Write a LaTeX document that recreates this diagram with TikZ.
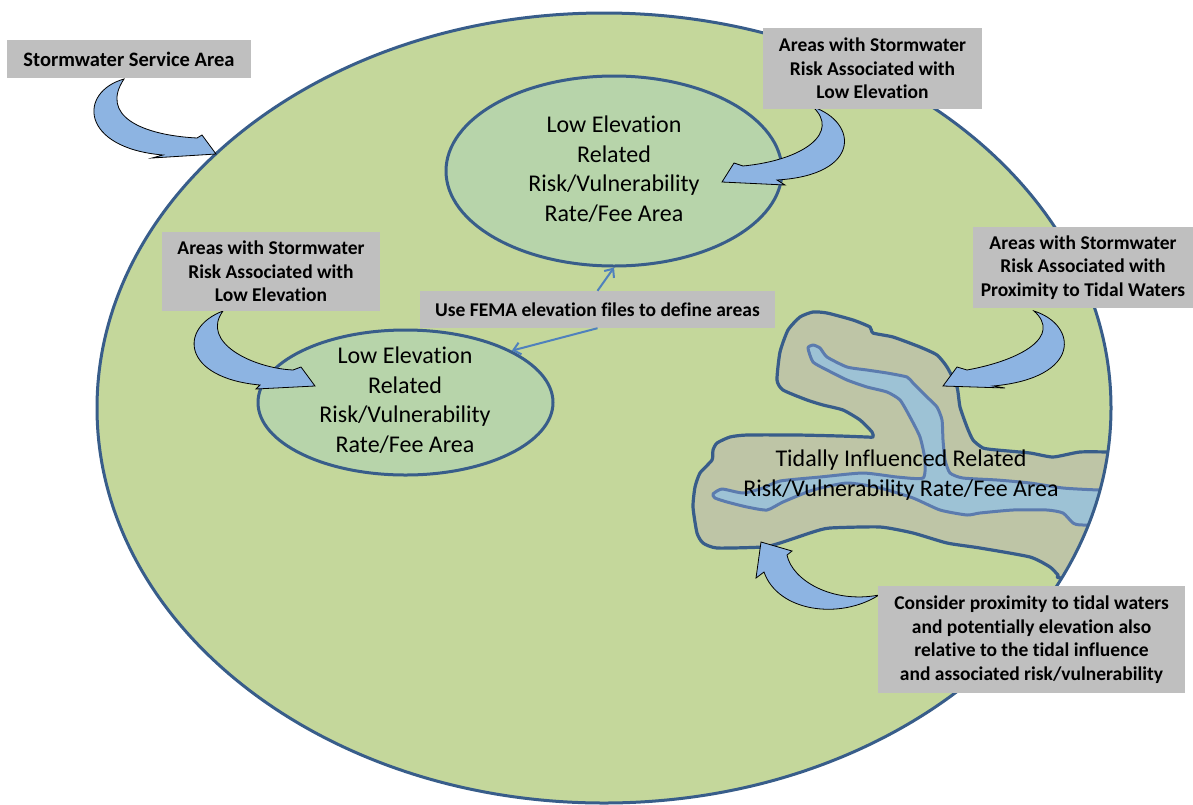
\documentclass[tikz,border=0pt]{standalone}
\usepackage{fontspec}
\setmainfont{Carlito}[Ligatures=NoCommon]
\usetikzlibrary{shapes.geometric,arrows.meta}
\definecolor{areafill}{HTML}{C4D79B}
\definecolor{darkblue}{HTML}{385D8A}
\definecolor{innerfill}{HTML}{B7D4AA}
\definecolor{boxgray}{HTML}{BFBFBF}
\definecolor{arrowblue}{HTML}{8DB4E2}
\definecolor{bandfill}{HTML}{BEC5A6}
\definecolor{chanfill}{HTML}{9DC2D5}
\definecolor{chanline}{HTML}{5B7BAE}
\definecolor{femablue}{HTML}{4F81BD}
\begin{document}
\begin{tikzpicture}[x=1pt,y=-1pt,
  lbl/.style={fill=boxgray, inner sep=0pt, align=center, font=\fontsize{19.5}{23.5}\selectfont\bfseries},
  zoneshape/.style={ellipse, draw=darkblue, line width=3pt, fill=innerfill, inner sep=0pt},
  zonetext/.style={inner sep=0pt, align=center, font=\fontsize{24}{29.5}\selectfont},
  blockarrow/.style={fill=arrowblue, draw=black, line width=0.8pt, line join=miter},
  femaarrow/.style={draw=femablue, line width=2pt, -{Straight Barb[length=7pt,width=12pt]}}]
\useasboundingbox (0,0) rectangle (1193,804);
% service area
\node[ellipse, fill=areafill, minimum width=1014pt, minimum height=790pt, inner sep=0pt] (area) at (604,408) {};
% tidal river
\begin{scope}
\clip (604,408) ellipse [x radius=507pt, y radius=395pt];
\draw[fill=bandfill, draw=darkblue, line width=3.2pt, line join=round]
  plot[smooth cycle, tension=0.35] coordinates {
  (777,380) (780,352) (788,330) (800,317) (813,312) (827,313) (853,320) (870,327) (873,333)
  (893,337) (920,347) (937,355) (947,367) (957,387) (960,407) (967,427) (973,440) (983,448)
  (997,450) (1030,453) (1053,457) (1080,452) (1112,452) (1150,452) (1150,580) (1062,578)
  (1058,575) (1050,567) (1030,557) (980,548) (947,543) (913,533) (880,527) (830,528) (813,532)
  (780,543) (763,547) (717,548) (703,543) (697,533) (693,507) (695,487) (700,473) (712,460)
  (713,450) (717,443) (730,437) (747,435) (797,435) (840,436) (867,437) (873,437) (872,432)
  (860,420) (843,410) (823,405) (807,400) (783,390)};
\draw[fill=chanfill, draw=chanline, line width=3pt, line join=round]
  plot[smooth cycle, tension=0.35] coordinates {
  (808,348) (813,345) (820,348) (827,357) (847,367) (867,370) (887,373) (907,377) (913,383)
  (927,397) (937,407) (942,420) (943,440) (945,460) (950,473) (963,478) (997,480) (1030,483)
  (1063,488) (1100,490) (1150,490) (1150,525) (1083,525) (1073,523) (1063,513) (1047,510)
  (1013,510) (980,513) (967,515) (940,510) (913,498) (880,488) (847,483) (813,490) (783,502)
  (767,510) (747,507) (727,502) (715,498) (713,494) (722,489) (743,493) (763,488) (780,481)
  (820,477) (863,473) (897,477) (923,478) (925,460) (920,437) (910,417) (900,400) (887,392)
  (867,387) (847,380) (827,370) (813,362)};
\end{scope}
\draw[darkblue, line width=3pt] (604,408) ellipse [x radius=507pt, y radius=395pt];
% inner zones
\node[zoneshape, minimum width=336pt, minimum height=190pt] (topzone) at (614,171) {};
\node[zonetext] (toptext) at (614,169) {Low Elevation\\Related\\Risk/Vulnerability\\Rate/Fee Area};
\node[zoneshape, minimum width=295pt, minimum height=145pt] (lowzone) at (405.5,402.5) {};
\node[zonetext] (lowtext) at (405,400) {Low Elevation\\Related\\Risk/Vulnerability\\Rate/Fee Area};
\node[zonetext] (tidal) at (901,475) {Tidally Influenced Related\\Risk/Vulnerability Rate/Fee Area};
% curved block arrows
\draw[blockarrow] (124,79) .. controls (78,92) and (80,148) .. (163,155) -- (152,158) -- (216,154)
  -- (202,135) -- (197,138) .. controls (140,135) and (100,115) .. (124,79) -- cycle;
\draw[blockarrow] (813,107) .. controls (858,122) and (862,175) .. (777,180) -- (785,185) -- (722,182)
  -- (734,163) -- (743,166) .. controls (805,160) and (840,132) .. (813,107) -- cycle;
\draw[blockarrow] (223,311) .. controls (178,328) and (182,378) .. (260,385) -- (256,389) -- (315,386)
  -- (301,367) -- (293,370) .. controls (252,368) and (200,342) .. (223,311) -- cycle;
\draw[blockarrow] (1034,311) .. controls (1078,325) and (1082,378) .. (993,386) -- (1005,388) -- (943,386)
  -- (957,367) -- (967,370) .. controls (1022,360) and (1062,336) .. (1034,311) -- cycle;
\draw[blockarrow] (879,595) .. controls (840,620) and (778,612) .. (764,572) -- (756,578) -- (761,542)
  -- (792,551) -- (787,555) .. controls (792,580) and (832,604) .. (879,595) -- cycle;
% labels
\node[lbl, minimum width=244pt, minimum height=38pt, font=\fontsize{20.5}{24}\selectfont\bfseries] (svc) at (129,59) {Stormwater Service Area};
\node[lbl, minimum width=219pt, minimum height=81pt] (tr) at (872.5,68.5) {Areas with Stormwater\\Risk Associated with\\Low Elevation};
\node[lbl, minimum width=218pt, minimum height=79pt] (lft) at (271,271.5) {Areas with Stormwater\\Risk Associated with\\Low Elevation};
\node[lbl, minimum width=220pt, minimum height=81pt] (rgt) at (1083,267.5) {Areas with Stormwater\\Risk Associated with\\Proximity to Tidal Waters};
\node[lbl, minimum width=355pt, minimum height=37pt] (fema) at (597.5,309.5) {Use FEMA elevation files to define areas};
\node[lbl, minimum width=307pt, minimum height=107pt] (br) at (1031.5,639.5) {Consider proximity to tidal waters\\and potentially elevation also\\relative to the tidal influence\\and associated risk/vulnerability};
% FEMA connectors
\draw[femaarrow] (fema.north) -- (topzone.south);
\draw[femaarrow] (fema.south) -- (lowzone.26);
\end{tikzpicture}
\end{document}
